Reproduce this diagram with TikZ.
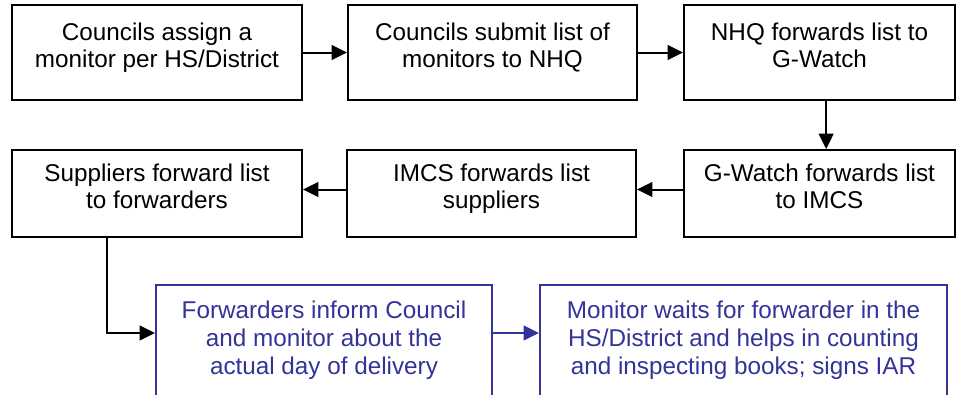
\documentclass[tikz,border=0pt]{standalone}
\usepackage{fontspec}
\setmainfont{Liberation Sans}
\usepackage{xcolor}
\usetikzlibrary{arrows.meta, positioning, calc}
\definecolor{wordblue}{HTML}{333399}

\begin{document}
\begin{tikzpicture}[
    x=0.75pt, y=-0.75pt,
    box/.style={rectangle, draw=black, line width=1.5pt, minimum height=71.25pt, align=center,
                font=\fontsize{18.2}{20.8}\selectfont, inner sep=0pt,
                execute at end node={\rule[-11pt]{0pt}{0pt}}},
    bluebox/.style={rectangle, draw=wordblue, text=wordblue, line width=1.5pt, minimum height=86.25pt,
                align=center, font=\fontsize{18.2}{20.8}\selectfont, inner sep=0pt,
                execute at end node={\rule[-7pt]{0pt}{0pt}}},
    arrow/.style={-{Triangle[length=11.5pt, width=11pt]}, line width=1.5pt}
]
\useasboundingbox (0,0) rectangle (964,394);
\clip (0,0) rectangle (964,394);

% Top row
\node[box, minimum width=217.5pt] (assign) at (157,52.5) {Councils assign a\\monitor per HS/District};
\node[box, minimum width=216.75pt] (submit) at (492.5,52.5) {Councils submit list of\\monitors to NHQ};
\node[box, minimum width=203.25pt] (nhq) at (819.5,52.5) {NHQ forwards list to\\G-Watch};

% Middle row
\node[box, minimum width=203.25pt, minimum height=65.25pt] (gwatch) at (819.5,193.5) {G-Watch forwards list\\to IMCS};
\node[box, minimum width=216.75pt, minimum height=65.25pt] (imcs) at (491.5,193.5) {IMCS forwards list\\suppliers};
\node[box, minimum width=217.5pt, minimum height=65.25pt] (suppliers) at (157,193.5) {Suppliers forward list\\to forwarders};

% Bottom row
\node[bluebox, minimum width=252pt] (inform) at (324,342.5) {Forwarders inform Council\\and monitor about the\\actual day of delivery};
\node[bluebox, minimum width=305.25pt] (monitor) at (743.5,342.5) {Monitor waits for forwarder in the\\HS/District and helps in counting\\and inspecting books; signs IAR};

% Arrows
\draw[arrow] (assign) -- (submit);
\draw[arrow] (submit) -- (nhq);
\draw[arrow] ([xshift=5pt]nhq.south) -- ([xshift=5pt]gwatch.north);
\draw[arrow] ([yshift=3pt]gwatch.west) -- ([yshift=3pt]imcs.east);
\draw[arrow] ([yshift=3pt]imcs.west) -- ([yshift=3pt]suppliers.east);

\coordinate (bend) at (107,333);
\draw[arrow] (suppliers.south -| bend) |- (inform.west |- bend);
\draw[arrow, draw=wordblue] (inform.east |- bend) -- (monitor.west |- bend);

\end{tikzpicture}
\end{document}
